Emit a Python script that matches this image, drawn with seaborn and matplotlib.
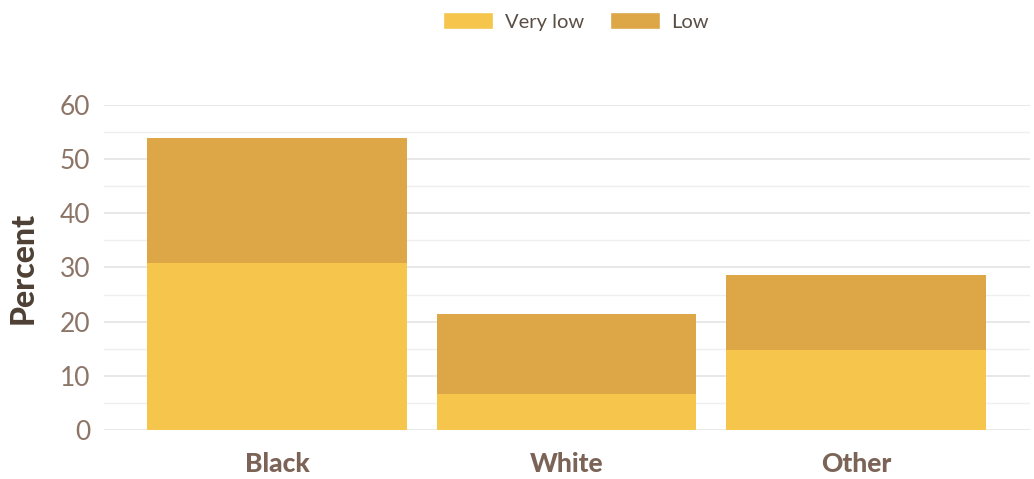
import numpy as np
import pandas as pd
import matplotlib
matplotlib.use("Agg")
import matplotlib.pyplot as plt
from matplotlib.patches import Patch
from matplotlib.ticker import MultipleLocator
import seaborn as sns

# ─────────────────────────────────────────────
# DADOS
# ─────────────────────────────────────────────
grupos = ["Black", "White", "Other"]
muito_baixo = [30.8, 6.6, 14.7]
baixo = [23.05, 14.75, 14.0]

COR_MUITO_BAIXO = "#F5C54C"
COR_BAIXO = "#DDA646"
COR_TICK = "#8C7567"
COR_LABEL = "#4E4034"

sns.set_theme(style="white")
plt.rcParams["font.family"] = ["Lato", "DejaVu Sans"]

df = pd.DataFrame({"grupo": grupos, "muito_baixo": muito_baixo, "baixo": baixo})
df["total"] = df["muito_baixo"] + df["baixo"]

fig = plt.figure(figsize=(10.34, 4.79), dpi=100)
ax = fig.add_axes([0.1006, 0.1023, 0.8954, 0.6785])

# barra total (Low) por trás, Very low por cima
sns.barplot(data=df, x="grupo", y="total", color=COR_BAIXO, saturation=1,
            width=0.897, ax=ax, edgecolor="none")
sns.barplot(data=df, x="grupo", y="muito_baixo", color=COR_MUITO_BAIXO, saturation=1,
            width=0.897, ax=ax, edgecolor="none")

ax.set_ylim(0, 60)
ax.set_xlim(-0.597, 2.6)
ax.yaxis.set_major_locator(MultipleLocator(10))
ax.yaxis.set_minor_locator(MultipleLocator(5))
ax.grid(axis="y", which="major", color="#E6E6E6", linewidth=1.3)
ax.grid(axis="y", which="minor", color="#EFEFEF", linewidth=1.0)
ax.set_axisbelow(True)
for s in ax.spines.values():
    s.set_visible(False)

ax.set_xlabel("")
ax.set_ylabel("Percent", fontsize=23, fontweight="black", color=COR_LABEL, labelpad=16)
ax.tick_params(axis="y", which="both", length=0, labelsize=19, labelcolor=COR_TICK, pad=10)
ax.tick_params(axis="x", length=0, labelsize=19, labelcolor="#7B6457", pad=16)
for t in ax.get_xticklabels():
    t.set_fontweight("black")

handles = [Patch(facecolor=COR_MUITO_BAIXO, label="Very low"),
           Patch(facecolor=COR_BAIXO, label="Low")]
fig.legend(handles=handles, loc="upper center", bbox_to_anchor=(0.557, 1.012), ncol=2,
           frameon=False, fontsize=14.5, labelcolor="#5A4E45", handlelength=2.5,
           handleheight=0.9, columnspacing=1.3, handletextpad=0.55)

plt.savefig("out.png", dpi=100)
plt.close()
